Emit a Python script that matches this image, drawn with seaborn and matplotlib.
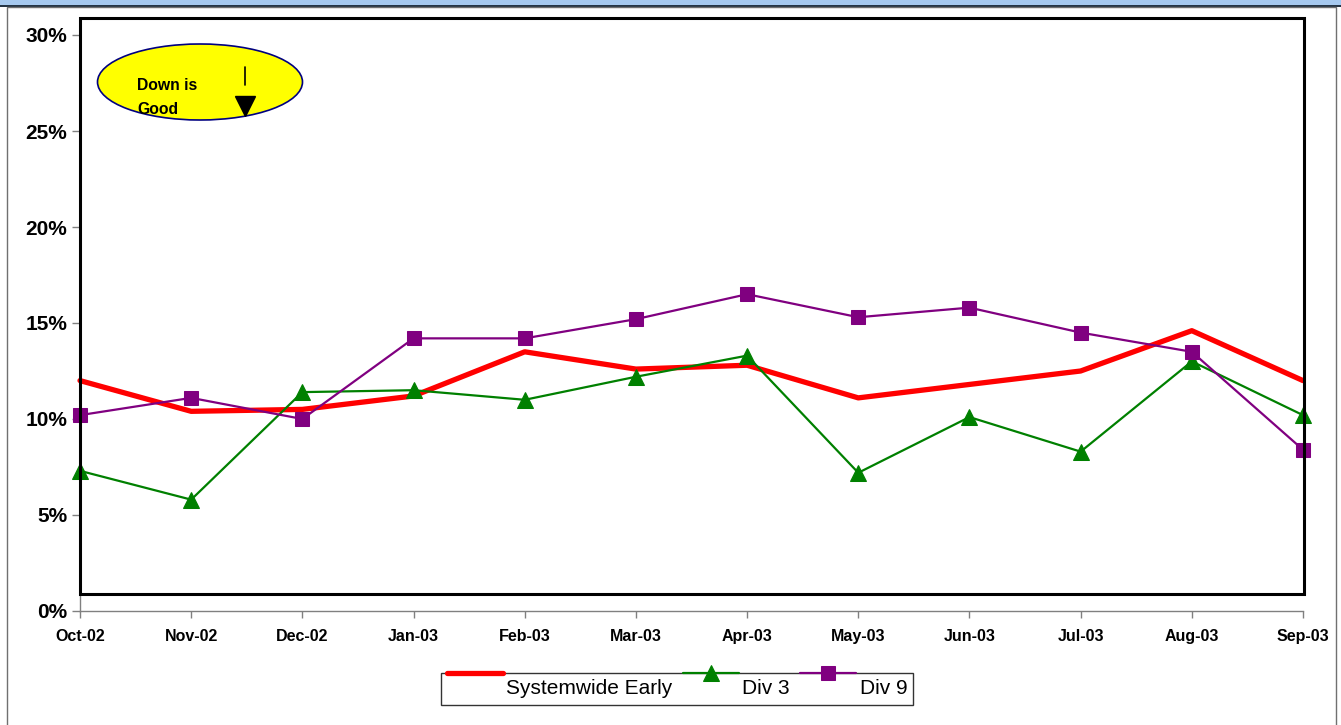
import matplotlib
matplotlib.use("Agg")

import numpy as np
import matplotlib.pyplot as plt
import seaborn as sns
from matplotlib.patches import Rectangle, Ellipse
from matplotlib.ticker import PercentFormatter
from matplotlib.legend_handler import HandlerLine2D

# -------------------------
# DATA
# -------------------------
months = ["Oct-02", "Nov-02", "Dec-02", "Jan-03", "Feb-03", "Mar-03",
          "Apr-03", "May-03", "Jun-03", "Jul-03", "Aug-03", "Sep-03"]

systemwide = [0.120, 0.104, 0.105, 0.112, 0.135, 0.126,
              0.128, 0.111, 0.118, 0.125, 0.146, 0.120]
div3 = [0.073, 0.058, 0.114, 0.115, 0.110, 0.122,
        0.133, 0.072, 0.101, 0.083, 0.130, 0.102]
div9 = [0.102, 0.111, 0.100, 0.142, 0.142, 0.152,
        0.165, 0.153, 0.158, 0.145, 0.135, 0.084]

W, H = 1341, 725

sns.set_style("white")
plt.rcParams["font.family"] = ["Liberation Sans", "DejaVu Sans"]
plt.rcParams["text.color"] = "black"
plt.rcParams["xtick.labelcolor"] = "black"
plt.rcParams["ytick.labelcolor"] = "black"

fig = plt.figure(figsize=(W / 100, H / 100), dpi=100)

# axes placed so the value scale matches the picture
ax = fig.add_axes([80 / W, (H - 611) / H, (1303 - 80) / W, (611 - 35) / H])
ax.patch.set_alpha(0)

x = np.arange(len(months))

sns.lineplot(x=x, y=systemwide, ax=ax, color="#ff0000", linewidth=3.8,
             label="Systemwide Early")
sns.lineplot(x=x, y=div3, ax=ax, color="#008000", linewidth=1.6,
             marker="^", markersize=11, markeredgecolor="#008000",
             label="Div 3")
sns.lineplot(x=x, y=div9, ax=ax, color="#800080", linewidth=1.6,
             marker="s", markersize=10, markeredgecolor="#800080",
             label="Div 9")

for line in ax.lines:
    line.set_clip_on(False)

ax.set_xlim(0, len(months) - 1)
ax.set_ylim(0, 0.30)
ax.set_yticks(np.arange(0, 0.31, 0.05))
ax.yaxis.set_major_formatter(PercentFormatter(1.0, decimals=0))
ax.set_xticks(x)
ax.set_xticklabels(months)

for lab in ax.get_yticklabels():
    lab.set_fontsize(15)
    lab.set_fontweight("bold")
for lab in ax.get_xticklabels():
    lab.set_fontsize(11.5)
    lab.set_fontweight("bold")

ax.tick_params(axis="y", direction="out", length=6, width=1,
               color="#808080", labelcolor="black", pad=3, left=True)
ax.tick_params(axis="x", direction="out", length=5, width=1,
               color="#808080", labelcolor="black", pad=8, bottom=True)

ax.spines["top"].set_visible(False)
ax.spines["right"].set_visible(False)
for s in ["left", "bottom"]:
    ax.spines[s].set_color("#808080")
    ax.spines[s].set_linewidth(1)

# -------------------------
# FRAME AND BACKGROUND
# -------------------------
def px_rect(x0, y0, x1, y1, **kw):
    return Rectangle((x0 / W, 1 - y1 / H), (x1 - x0) / W, (y1 - y0) / H,
                     transform=fig.transFigure, **kw)

fig.patches.append(px_rect(0, 0, W, 6, facecolor="#a6c9ef",
                           edgecolor="none", zorder=0))
fig.patches.append(px_rect(0, 5, W, 6.5, facecolor="#253545",
                           edgecolor="none", zorder=0))
fig.patches.append(px_rect(7, 7, 1336, H + 5, facecolor="none",
                           edgecolor="#707070", linewidth=1, zorder=0))
fig.patches.append(px_rect(80, 18, 1304, 594, facecolor="none",
                           edgecolor="black", linewidth=2.2, zorder=5))

# -------------------------
# "DOWN IS GOOD" CALLOUT
# -------------------------
fig.patches.append(Ellipse((200 / W, 1 - 82 / H), 205 / W, 76 / H,
                           transform=fig.transFigure, facecolor="#ffff00",
                           edgecolor="#000080", linewidth=1.2, zorder=6))
fig.text(137 / W, 1 - 86 / H, "Down is", fontsize=11.3, fontweight="bold",
         va="center", ha="left", zorder=7)
fig.text(137 / W, 1 - 109 / H, "Good", fontsize=11.3, fontweight="bold",
         va="center", ha="left", zorder=7)
fig.lines.append(plt.Line2D([245 / W, 245 / W], [1 - 67 / H, 1 - 85 / H],
                            transform=fig.transFigure, color="black",
                            linewidth=1.2, zorder=7))
fig.lines.append(plt.Line2D([245 / W], [1 - 106 / H],
                            transform=fig.transFigure, marker="v",
                            markersize=15, color="black", linestyle="none",
                            zorder=7))

# -------------------------
# LEGEND
# -------------------------
class RaisedHandler(HandlerLine2D):
    # legend keys sit on the top edge of the box, like the original
    def create_artists(self, legend, orig_handle, xdescent, ydescent,
                       width, height, fontsize, trans):
        return super().create_artists(legend, orig_handle, xdescent,
                                      ydescent - 21, width, height,
                                      fontsize, trans)

handles, labels = ax.get_legend_handles_labels()
leg = ax.legend(handles, labels, loc="center",
                bbox_to_anchor=(677 / W, 1 - 689 / H),
                bbox_transform=fig.transFigure, ncol=3, frameon=True,
                fancybox=False, edgecolor="black", fontsize=15,
                handlelength=2.7, handletextpad=0.15, columnspacing=0.5,
                borderpad=0.3,
                handler_map={h: RaisedHandler() for h in handles})
leg.get_frame().set_linewidth(1)
for t in leg.get_texts():
    t.set_color("black")

plt.savefig("out.png", dpi=100)
plt.close()
